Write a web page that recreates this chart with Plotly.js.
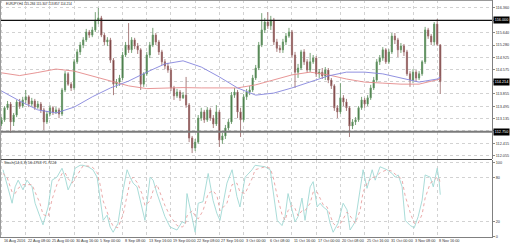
<!DOCTYPE html>
<html><head><meta charset="utf-8">
<script src="https://cdn.plot.ly/plotly-3.0.1.min.js"></script>
<style>html,body{margin:0;padding:0;background:#fff}#chart{width:510px;height:246px}</style>
</head><body><div id="chart"></div>
<script>
const symbolTitle = "EURJPY,H4 115.284 115.307 113.857 114.214";
const stochTitle = "Stoch(14,3,3) 56.4758 71.7224";

const open = [112.98,113.10,113.45,113.56,113.04,113.24,113.62,113.50,113.68,113.77,
113.56,113.65,113.47,113.56,113.39,113.04,113.27,113.45,113.33,113.39,
113.27,113.97,114.44,114.14,114.03,114.79,115.08,115.28,115.43,115.66,
115.57,115.72,116.01,116.07,115.57,115.37,115.43,114.84,114.14,114.20,
114.32,114.99,115.28,115.14,115.43,115.25,115.14,114.14,114.44,114.99,
115.28,115.57,115.37,115.08,114.79,114.67,114.55,114.03,113.80,113.91,
113.74,113.82,113.53,112.57,112.28,112.45,113.15,113.33,113.10,113.39,
113.15,112.98,113.33,112.51,112.63,112.86,113.04,113.82,113.91,113.33,
113.10,113.77,113.91,113.97,114.32,114.61,115.28,115.72,115.95,115.84,
116.01,115.37,115.19,115.14,115.37,115.54,115.66,114.99,114.49,114.61,
115.08,114.79,114.55,114.79,114.90,114.44,114.49,114.38,114.55,114.26,
114.09,113.45,113.33,113.74,113.62,113.45,112.92,113.04,113.10,113.45,
113.68,113.56,113.74,114.03,114.26,114.79,114.90,115.14,114.79,115.08,
115.54,115.43,115.14,115.25,115.08,114.44,114.26,114.49,114.32,114.44,
114.79,115.72,115.54,115.37,115.89,115.284];
const high = [113.18,113.50,113.65,113.62,113.30,113.68,113.71,113.77,113.97,113.82,
113.74,113.71,113.65,113.62,113.45,113.36,113.53,113.50,113.47,113.45,
114.03,114.52,114.49,114.20,114.87,115.16,115.37,115.51,115.75,115.72,
115.81,116.24,116.36,116.13,115.63,115.51,115.49,114.90,114.29,114.41,
115.08,115.37,115.92,115.51,115.49,115.34,115.19,114.49,115.08,115.37,
115.78,115.63,115.43,115.14,114.87,114.76,114.61,114.09,114.00,113.97,
113.91,114.35,113.59,112.63,112.54,113.24,113.45,113.39,113.47,113.45,
113.24,113.53,113.39,112.72,112.95,113.12,113.91,114.03,113.97,113.45,
113.85,114.00,114.09,114.41,114.70,115.37,116.21,116.07,116.24,116.13,
116.07,115.46,115.28,115.46,115.63,115.78,115.72,115.08,114.73,115.14,
115.16,114.87,115.05,114.99,114.96,114.58,114.61,114.64,114.61,114.32,
114.14,113.53,114.17,113.82,113.71,113.50,113.12,113.18,113.50,113.77,
113.74,113.82,114.12,114.35,114.87,114.99,115.22,115.19,115.16,115.63,
115.63,115.49,115.34,115.31,115.14,114.52,114.58,114.55,114.52,114.84,
115.81,115.78,115.60,115.95,116.04,115.307];
const low = [112.92,113.04,113.39,112.72,112.92,113.18,113.42,113.45,113.59,113.47,
113.50,113.39,113.42,113.30,112.80,112.98,113.21,113.24,113.27,113.15,
113.21,113.91,114.09,113.94,113.97,114.73,114.99,115.19,115.37,115.49,
115.51,115.66,115.89,115.51,115.28,115.25,114.76,113.82,114.03,114.09,
114.26,114.93,115.05,115.05,115.16,115.02,113.97,114.06,114.38,114.90,
115.22,115.28,114.99,114.70,114.58,114.47,113.94,113.68,113.74,113.65,
113.71,113.45,112.45,112.13,112.19,112.40,113.07,113.01,113.04,113.07,
112.86,112.92,112.31,112.40,112.54,112.80,112.98,113.74,113.15,112.60,
113.04,113.68,113.82,113.91,114.26,114.55,115.22,115.63,115.75,115.72,
115.28,115.08,115.05,115.05,115.28,115.49,114.90,114.03,114.32,114.55,
114.70,114.47,114.49,114.73,114.35,114.32,114.29,114.26,114.17,114.00,
113.36,113.15,113.27,113.50,113.36,112.60,112.83,112.95,113.04,113.39,
113.45,113.50,113.68,113.97,114.20,114.70,114.82,114.73,114.73,115.02,
115.31,114.93,115.05,114.96,114.38,114.06,114.17,114.23,114.26,114.38,
114.73,115.46,115.28,115.28,115.25,113.857];
const close = [113.10,113.45,113.56,113.04,113.24,113.62,113.50,113.68,113.77,113.56,
113.65,113.47,113.56,113.39,113.04,113.27,113.45,113.33,113.39,113.27,
113.97,114.44,114.14,114.03,114.79,115.08,115.28,115.43,115.66,115.57,
115.72,116.01,116.07,115.57,115.37,115.43,114.84,114.14,114.20,114.32,
114.99,115.28,115.14,115.43,115.25,115.14,114.14,114.44,114.99,115.28,
115.57,115.37,115.08,114.79,114.67,114.55,114.03,113.80,113.91,113.74,
113.82,113.53,112.57,112.28,112.45,113.15,113.33,113.10,113.39,113.15,
112.98,113.33,112.51,112.63,112.86,113.04,113.82,113.91,113.33,113.10,
113.77,113.91,113.97,114.32,114.61,115.28,115.72,115.95,115.84,116.01,
115.37,115.19,115.14,115.37,115.54,115.66,114.99,114.49,114.61,115.08,
114.79,114.55,114.79,114.90,114.44,114.49,114.38,114.55,114.26,114.09,
113.45,113.33,113.74,113.62,113.45,112.92,113.04,113.10,113.45,113.68,
113.56,113.74,114.03,114.26,114.79,114.90,115.14,114.79,115.08,115.54,
115.43,115.14,115.25,115.08,114.44,114.26,114.49,114.32,114.44,114.79,
115.72,115.54,115.37,115.89,115.30,114.214];

const maIdx = [0,6,12,18,24,30,36,42,48,54,60,66,72,78,84,90,96,102,108,114,120,126,132,138,144,145];
const maSlow = [114.47,114.39,114.48,114.58,114.52,114.38,114.23,114.09,114.01,114.03,114.04,114.03,114.03,114.03,114.12,114.26,114.41,114.49,114.41,114.29,114.20,114.17,114.14,114.14,114.26,114.29];
const maFast = [113.94,113.65,113.39,113.30,113.47,113.77,114.03,114.23,114.49,114.73,114.82,114.64,114.35,114.03,113.82,113.88,114.03,114.20,114.38,114.49,114.49,114.44,114.32,114.20,114.29,114.35];

const stochX = [0.5,1.8,3.5,4.5,5.5,7.1,8.4,10.1,11.1,12.7,13.7,15.4,16.7,18.3,20,21,22,23.3,24.3,26,
26.9,28.6,30.2,31.6,32.6,33.6,34.9,35.9,36.9,38.5,40.2,41.5,42.5,43.5,44.8,46.4,47.4,49.1,50.1,51.4,
52.4,54,55.7,58,59.7,60.7,61.3,63,64,65,66.6,68.3,69.9,71.2,72.2,74.5,76.2,77.8,78.8,80.5,
82.8,83.8,87.1,88.8,89.8,91.1,92.7,93.7,94.7,96,97,98,99.3,100.3,102,103,104.3,105.3,106.3,107.6,
108.6,109.6,111.2,112.9,114.2,115.2,116.9,118.5,119.5,120.8,122.5,123.5,125.1,127.4,129.1,130.1,131.1,132.4,133.4,135.1,
136.4,137.7,139,140,141.7,142.7,144,144.6,145];
const stochMain = [90,72,45,67,76,63,76,67,45,27,16,40,76,80,92,80,63,74,92,96,
96,94,90,80,49,22,29,13,6,18,63,90,80,72,67,40,22,80,76,58,
45,27,13,9,20,18,58,27,6,45,47,85,49,31,22,72,90,54,40,80,
90,96,94,90,58,22,15,27,58,36,20,27,52,22,67,74,40,45,40,36,
18,6,18,45,36,9,20,63,90,65,90,76,94,90,85,80,83,67,22,15,
12,27,49,83,80,67,92,76,56.48];
const stochSignal = [85,80,60,58,65,70,70,70,60,45,30,27,50,70,85,86,78,72,78,90,
95,95,93,86,70,48,32,22,14,12,30,55,75,80,73,58,42,48,62,70,
60,42,28,15,13,16,28,35,28,24,35,58,62,55,35,45,70,72,60,58,
78,90,94,92,80,55,30,22,35,42,38,28,35,35,45,60,60,52,43,40,
30,18,12,25,33,28,18,35,60,72,80,80,86,90,88,84,82,76,55,32,
18,18,30,52,72,75,80,79,71.72];

const dateTickPos = [0,8,16,24,32,40,48,56,64,72,80,88,96,104,112,120,128,136,144];
const dateLabels = ["16 Aug 2016","22 Aug 08:00","25 Aug 00:00","30 Aug 16:00","5 Sep 00:00","8 Sep 08:00","13 Sep 16:00","19 Sep 00:00","22 Sep 08:00","27 Sep 16:00","3 Oct 00:00","6 Oct 08:00","11 Oct 16:00","17 Oct 00:00","20 Oct 08:00","25 Oct 16:00","31 Oct 00:00","3 Nov 08:00","8 Nov 16:00"];

const priceTicks = [116.360,116.000,115.640,115.280,114.925,114.575,114.214,113.855,113.495,113.135,112.775,112.415,112.055];
const priceTickText = ["116.360","","115.640","115.280","114.925","114.575","","113.855","113.495","113.135","","112.415","112.055"];
const resistance = 116.000;
const support = 112.750;
const lastPrice = 114.214;
const stochTicks = [0,20,80,100];

const barIdx = close.map((_, i) => i);
const XD = 492/510;
const tickFont = {family:"Liberation Sans, Arial, sans-serif", size:3.8, color:"#333"};

const traces = [
  {type:"candlestick", x:barIdx, open:open, high:high, low:low, close:close,
   xaxis:"x", yaxis:"y", whiskerwidth:0, hoverinfo:"skip", showlegend:false,
   increasing:{line:{color:"#6a9a6a", width:0.9}, fillcolor:"#245a24"},
   decreasing:{line:{color:"#a07070", width:0.9}, fillcolor:"#4e0c0c"}},
  {type:"scatter", mode:"lines", x:maIdx, y:maSlow, xaxis:"x", yaxis:"y",
   line:{color:"#e48a8a", width:0.9}, hoverinfo:"skip", showlegend:false},
  {type:"scatter", mode:"lines", x:maIdx, y:maFast, xaxis:"x", yaxis:"y",
   line:{color:"#8585dc", width:0.9}, hoverinfo:"skip", showlegend:false},
  {type:"scatter", mode:"lines", x:stochX, y:stochMain, xaxis:"x", yaxis:"y2",
   line:{color:"#9fd8d4", width:0.9}, hoverinfo:"skip", showlegend:false},
  {type:"scatter", mode:"lines", x:stochX, y:stochSignal, xaxis:"x", yaxis:"y2",
   line:{color:"#e8a0a0", width:0.9, dash:"dot"}, hoverinfo:"skip", showlegend:false}
];

const annotations = dateTickPos.map((p, k) => ({
  x:p, xref:"x", y:(246-241)/246, yref:"paper", text:dateLabels[k], showarrow:false,
  xanchor:"left", yanchor:"middle", font:tickFont
}));
annotations.push({x:4/510, xref:"paper", y:(246-4)/246, yref:"paper", text:symbolTitle, showarrow:false,
  xanchor:"left", yanchor:"middle", font:{family:"Liberation Sans, Arial, sans-serif", size:3.2, color:"#222"}});
annotations.push({x:2/510, xref:"paper", y:(246-163.5)/246, yref:"paper", text:stochTitle, showarrow:false,
  xanchor:"left", yanchor:"middle", font:tickFont});
[[resistance,"116.000"],[lastPrice,"114.214"],[support,"112.750"]].forEach(([v,t]) => {
  annotations.push({x:XD+0.001, xref:"paper", y:v, yref:"y", text:t, showarrow:false,
    xanchor:"left", yanchor:"middle", bgcolor:"#000", borderpad:0.8,
    font:{family:"Liberation Sans, Arial, sans-serif", size:3.8, color:"#fff"}});
});

const layout = {
  width:510, height:246, margin:{l:0,r:0,t:0,b:0},
  paper_bgcolor:"#fff", plot_bgcolor:"#fff", showlegend:false, boxgap:0.45,
  font:{family:"Liberation Sans, Arial, sans-serif", size:4, color:"#333"},
  xaxis:{domain:[0,XD], range:[-0.5,162.1], anchor:"y2", tickvals:dateTickPos, showticklabels:false,
    ticks:"", showgrid:true, gridcolor:"#d2d2d2", griddash:"dot", gridwidth:1, zeroline:false,
    showline:true, linecolor:"#808080", linewidth:1, rangeslider:{visible:false}, fixedrange:true},
  yaxis:{domain:[(246-159)/246,1], range:[111.958,116.593], side:"right", anchor:"x",
    tickvals:priceTicks, ticktext:priceTickText, tickfont:tickFont, ticks:"outside", ticklen:2,
    tickcolor:"#888", showgrid:true, gridcolor:"#d2d2d2", griddash:"dot", gridwidth:1,
    zeroline:false, showline:true, linecolor:"#808080", linewidth:1, fixedrange:true},
  yaxis2:{domain:[(246-237)/246,(246-160)/246], range:[-0.4,103.1], side:"right", anchor:"x",
    tickvals:stochTicks, ticktext:stochTicks.map(String), tickfont:tickFont, ticks:"outside", ticklen:2,
    tickcolor:"#888", showgrid:true, gridcolor:"#d2d2d2", griddash:"dot", gridwidth:1,
    zeroline:false, showline:true, linecolor:"#808080", linewidth:1, fixedrange:true},
  shapes:[
    {type:"line", xref:"paper", yref:"y", x0:0, x1:XD, y0:resistance, y1:resistance, line:{color:"#111", width:1.3}},
    {type:"line", xref:"paper", yref:"y", x0:0, x1:XD, y0:support, y1:support, line:{color:"#7a7a7a", width:2}},
    {type:"line", xref:"paper", yref:"paper", x0:0, x1:XD, y0:(246-159.5)/246, y1:(246-159.5)/246, line:{color:"#444", width:1.2}},
    {type:"line", xref:"paper", yref:"paper", x0:0, x1:XD, y0:(246-0.5)/246, y1:(246-0.5)/246, line:{color:"#999", width:1}},
    {type:"line", xref:"paper", yref:"paper", x0:0.5/510, x1:0.5/510, y0:(246-237)/246, y1:1, line:{color:"#999", width:1}}
  ],
  annotations:annotations
};

Plotly.newPlot("chart", traces, layout, {staticPlot:true, displayModeBar:false});
</script>
</body></html>
